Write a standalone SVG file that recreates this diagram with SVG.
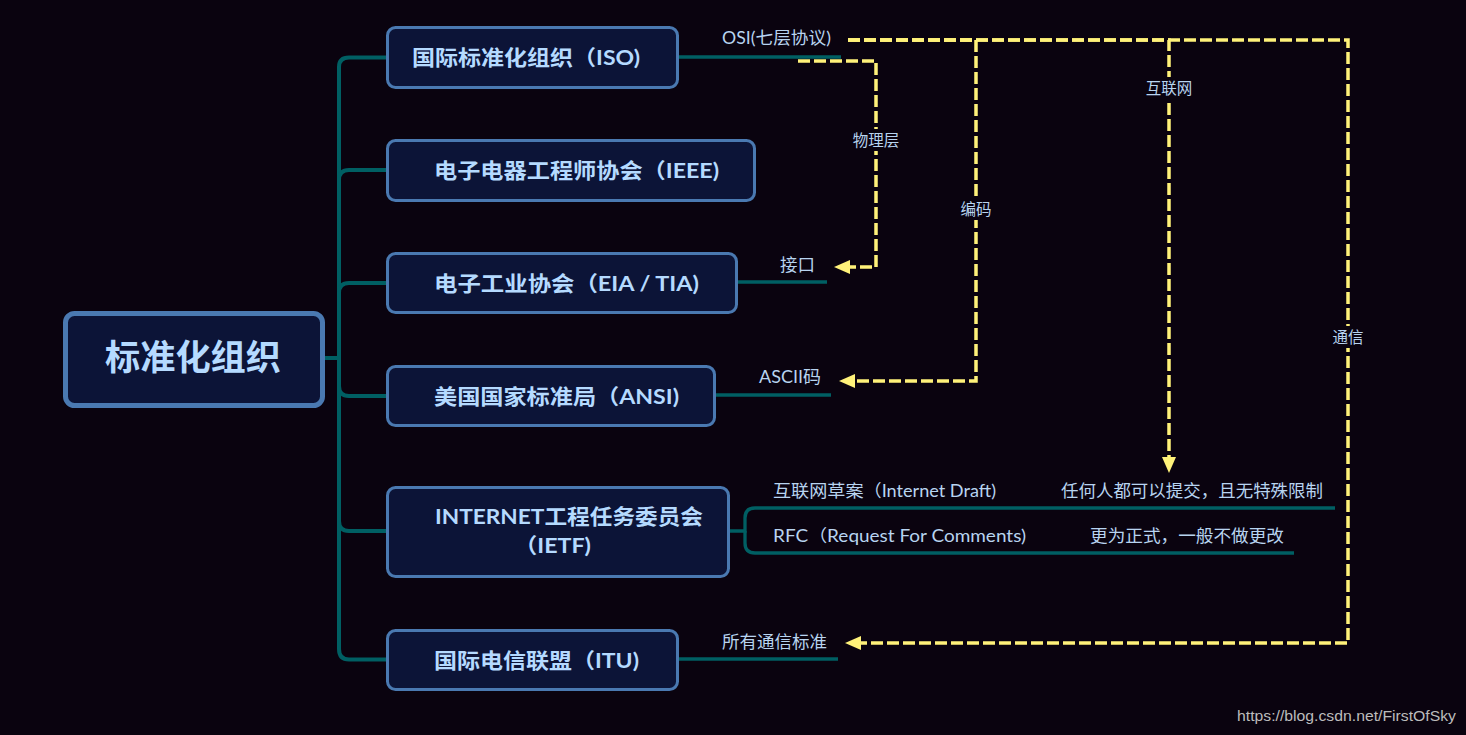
<svg xmlns="http://www.w3.org/2000/svg" width="1466" height="735" viewBox="0 0 1466 735">
<defs>
<style>
.bg{fill:#0a030f}
.node{fill:#0c1437;stroke:#4a79b1;stroke-width:3}
.root{fill:#0c1437;stroke:#4a79b1;stroke-width:5}
.nt{font-family:Lato,"Noto Sans CJK SC",sans-serif;font-weight:bold;font-size:21px;fill:#b5daff}
.rt{font-family:Lato,"Noto Sans CJK SC",sans-serif;font-weight:bold;font-size:35px;fill:#b5daff}
.br{fill:none;stroke:#005f63;stroke-width:4}
.lf{fill:none;stroke:#005f63;stroke-width:3.3}
.lt{font-family:Lato,"Noto Sans CJK SC",sans-serif;font-size:17px;fill:#b8d4f0}
.dl{fill:none;stroke:#fff27a;stroke-width:3.5;stroke-dasharray:12 4}
.dt{font-family:"Noto Sans CJK SC",sans-serif;font-size:15.5px;fill:#b8d4f0;text-anchor:middle}
.lb{fill:#0a030f}
.wm{font-family:"Liberation Sans",Arial,sans-serif;font-size:15px;fill:#bcbcbc}
</style>
<marker id="arr" markerUnits="userSpaceOnUse" markerWidth="16" markerHeight="14" refX="0" refY="7" orient="auto">
<path d="M0,0 L16,7 L0,14 z" fill="#fff27a"/>
</marker>
</defs>
<rect class="bg" x="0" y="0" width="1466" height="735"/>
<g id="connectors">
<path class="br" d="M322,358 H339"/>
<path class="br" d="M339,358 V67 Q339,57.5 349,57.5 H388"/>
<path class="br" d="M339,358 V180 Q339,170 349,170 H388"/>
<path class="br" d="M339,358 V293 Q339,283 349,283 H388"/>
<path class="br" d="M339,358 V386 Q339,396 349,396 H388"/>
<path class="br" d="M339,358 V521 Q339,531 349,531 H388"/>
<path class="br" d="M339,358 V649 Q339,659.5 349,659.5 H388"/>
<path class="lf" d="M678,57 H841"/>
<path class="lf" d="M737,282 H827"/>
<path class="lf" d="M715,395 H831"/>
<path class="lf" d="M729,531 H745 V518 Q745,508 755,508 H1335"/>
<path class="lf" d="M745,531 V543 Q745,553 755,553 H1294"/>
<path class="lf" d="M677,659 H838"/>
<path class="dl" d="M798,61 H876 V267 H850" marker-end="url(#arr)"/>
<path class="dl" d="M848,40 H976 V381 H855" marker-end="url(#arr)"/>
<path class="dl" d="M848,40 H1169 V457" marker-end="url(#arr)"/>
<path class="dl" d="M848,40 H1348 V643 H861" marker-end="url(#arr)"/>
<rect class="lb" x="849" y="129" width="54" height="22"/>
<text class="dt" x="876" y="145.5">物理层</text>
<rect class="lb" x="957" y="198" width="38" height="22"/>
<text class="dt" x="976" y="214.5">编码</text>
<rect class="lb" x="1142" y="77" width="54" height="22"/>
<text class="dt" x="1169" y="93.5">互联网</text>
<rect class="lb" x="1329" y="326" width="38" height="22"/>
<text class="dt" x="1348" y="342.5">通信</text>
</g>
<g id="root">
<rect class="root" x="65.5" y="313.5" width="257" height="92" rx="9"/>
<text class="rt" x="105" y="370" textLength="176" lengthAdjust="spacingAndGlyphs">标准化组织</text>
</g>
<g id="iso">
<rect class="node" x="387.5" y="27.5" width="290" height="60" rx="8"/>
<text class="nt" x="412" y="65" textLength="228" lengthAdjust="spacingAndGlyphs">国际标准化组织（ISO)</text>
<text class="lt" x="722" y="44" textLength="109" lengthAdjust="spacingAndGlyphs">OSI(七层协议)</text>
</g>
<g id="ieee">
<rect class="node" x="387.5" y="140.5" width="367" height="60" rx="8"/>
<text class="nt" x="434" y="178" textLength="285" lengthAdjust="spacingAndGlyphs">电子电器工程师协会（IEEE)</text>
</g>
<g id="eia">
<rect class="node" x="387.5" y="253.5" width="349" height="59" rx="8"/>
<text class="nt" x="434" y="291" textLength="265" lengthAdjust="spacingAndGlyphs">电子工业协会（EIA / TIA)</text>
<text class="lt" x="780" y="271" textLength="35" lengthAdjust="spacingAndGlyphs">接口</text>
</g>
<g id="ansi">
<rect class="node" x="387.5" y="366.5" width="327" height="59" rx="8"/>
<text class="nt" x="434" y="404" textLength="245" lengthAdjust="spacingAndGlyphs">美国国家标准局（ANSI)</text>
<text class="lt" x="759" y="383" textLength="62" lengthAdjust="spacingAndGlyphs">ASCII码</text>
</g>
<g id="ietf">
<rect class="node" x="387.5" y="487.5" width="341" height="89" rx="8"/>
<text class="nt" x="435" y="524" textLength="268" lengthAdjust="spacingAndGlyphs">INTERNET工程任务委员会</text>
<text class="nt" x="514" y="553" textLength="77" lengthAdjust="spacingAndGlyphs">（IETF)</text>
<text class="lt" x="773" y="497" textLength="223" lengthAdjust="spacingAndGlyphs">互联网草案（Internet Draft)</text>
<text class="lt" x="1061" y="497" textLength="262" lengthAdjust="spacingAndGlyphs">任何人都可以提交，且无特殊限制</text>
<text class="lt" x="773" y="542" textLength="253" lengthAdjust="spacingAndGlyphs">RFC（Request For Comments)</text>
<text class="lt" x="1090" y="542" textLength="194" lengthAdjust="spacingAndGlyphs">更为正式，一般不做更改</text>
</g>
<g id="itu">
<rect class="node" x="387.5" y="630.5" width="290" height="59" rx="8"/>
<text class="nt" x="434" y="668" textLength="205" lengthAdjust="spacingAndGlyphs">国际电信联盟（ITU)</text>
<text class="lt" x="722" y="648" textLength="105" lengthAdjust="spacingAndGlyphs">所有通信标准</text>
</g>
<text class="wm" x="1237" y="721" textLength="219" lengthAdjust="spacingAndGlyphs">https://blog.csdn.net/FirstOfSky</text>
</svg>
